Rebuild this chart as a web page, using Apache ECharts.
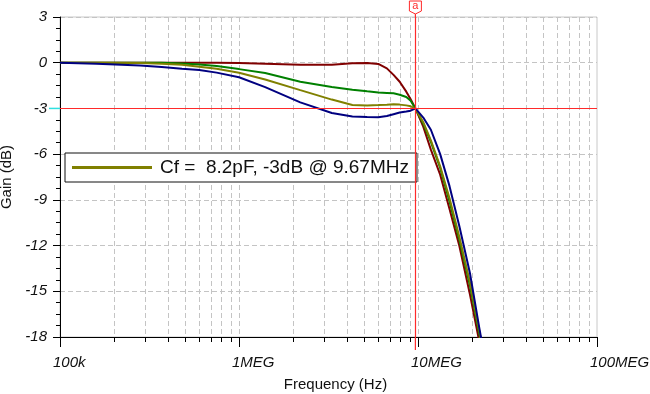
<!DOCTYPE html>
<html><head><meta charset="utf-8">
<script src="https://cdn.jsdelivr.net/npm/echarts@6/dist/echarts.min.js"></script>
<style>html,body{margin:0;padding:0;background:#fff}#c{width:650px;height:394px}</style>
</head><body><div id="c"></div>
<script>
// ---- data ----
const freqHz = [1e5, 1.6e5, 2.8e5, 3.7e5, 4.8e5, 6e5, 7.5e5, 1e6, 1.4e6, 2.2e6, 3.3e6, 4.3e6, 5.2e6, 6e6, 6.7e6, 7.3e6, 7.9e6, 8.6e6, 9.1e6, 9.67e6, 1.07e7, 1.18e7, 1.33e7, 1.5e7, 1.7e7, 1.95e7, 2.2e7, 2.5e7];
const gainMaroon = [0,0,0,0,0,0,0,-0.02,-0.06,-0.13,-0.13,-0.04,-0.02,-0.08,-0.37,-0.8,-1.25,-1.9,-2.4,-3.0,-4.2,-5.7,-7.35,-9.6,-12.0,-15.2,-18.3,-21.5];
const gainGreen  = [0,0,0,-0.01,-0.05,-0.11,-0.22,-0.42,-0.68,-1.25,-1.6,-1.78,-1.88,-1.95,-1.98,-2.01,-2.1,-2.25,-2.5,-3.0,-4.0,-5.2,-6.9,-9.1,-11.6,-14.6,-17.8,-21.2];
const gainOlive  = [0,0,-0.02,-0.06,-0.14,-0.26,-0.4,-0.66,-1.1,-1.8,-2.42,-2.78,-2.8,-2.78,-2.76,-2.72,-2.75,-2.8,-2.86,-3.0,-3.9,-5.1,-6.8,-8.9,-11.4,-14.4,-17.6,-21.0];
const gainNavy   = [0,-0.06,-0.18,-0.28,-0.4,-0.48,-0.65,-0.95,-1.6,-2.6,-3.3,-3.53,-3.57,-3.58,-3.5,-3.38,-3.27,-3.2,-3.15,-3.0,-3.6,-4.4,-6.0,-8.1,-10.7,-13.8,-17.4,-21.0];
const xDecades = [1e5, 1e6, 1e7, 1e8];
const xDecadeLabels = ['100k', '1MEG', '10MEG', '100MEG'];
const xMinorValues = [2e5,3e5,4e5,5e5,6e5,7e5,8e5,9e5,1e6,2e6,3e6,4e6,5e6,6e6,7e6,8e6,9e6,1e7,2e7,3e7,4e7,5e7,6e7,7e7,8e7,9e7];
const yMin = -18, yMax = 3, yStep = 3;
const cursorFreq = 9.67e6, cursorGain = -3;
const legendText = 'Cf =  8.2pF, -3dB @ 9.67MHz';
const xName = 'Frequency (Hz)', yName = 'Gain (dB)';

// ---- chart ----
const chart = echarts.init(document.getElementById('c'), null, {renderer:'canvas'});
const pair = g => freqHz.map((f,i)=>[f, g[i]]);
const gridDash = {color:'#c4c4c4', type:[5,3], width:1};
const FONT = 'Liberation Sans, Arial, sans-serif';
const labelFont = {fontFamily:FONT, fontStyle:'italic', fontSize:15, color:'#111'};
const CURSOR = '#ff2a2a';
const lineSeries = (name, color, g) => ({
  name, type:'line', data: pair(g), showSymbol:false, symbol:'none', smooth:false,
  lineStyle:{color, width:2}, itemStyle:{color}, animation:false, silent:true, z:3,
  emphasis:{disabled:true}
});

chart.setOption({
  animation:false,
  grid:{left:60, right:53, top:17, bottom:57, show:true, borderColor:'#c8c8c8', borderWidth:1,
        backgroundColor:'transparent', containLabel:false, outerBoundsMode:'none'},
  legend:{
    show:true, data:[legendText], left:65, top:153, orient:'horizontal',
    icon:'rect', itemWidth:80, itemHeight:3, padding:[5,8,5,7],
    backgroundColor:'#fff', borderColor:'#111', borderWidth:1,
    selectedMode:false,
    textStyle:{fontFamily:FONT, fontSize:19, color:'#111', padding:[0,0,0,3]}
  },
  xAxis:[{
    type:'log', logBase:10, min:1e5, max:1e8, position:'bottom',
    name:xName, nameLocation:'middle', nameGap:40,
    nameTextStyle:{fontFamily:FONT, fontSize:15, color:'#111', padding:[0,0,0,14]},
    axisLine:{show:true, onZero:false, lineStyle:{color:'#000', width:1}},
    axisTick:{show:true, inside:false, length:10, lineStyle:{color:'#000'}},
    axisLabel:{show:false},
    splitLine:{show:false},
    minorTick:{show:false}
  },{
    type:'log', logBase:10, min:1e5, max:1e8, position:'bottom',
    axisLine:{show:true, onZero:false, lineStyle:{color:'#000', width:1}},
    axisTick:{show:true, inside:false, length:5, customValues:xMinorValues, lineStyle:{color:'#000'}},
    axisLabel:{show:false},
    splitLine:{show:true, lineStyle:gridDash}
  }],
  yAxis:{
    type:'value', min:yMin, max:yMax, interval:yStep,
    name:yName, nameLocation:'middle', nameGap:38, nameRotate:90,
    nameTextStyle:{fontFamily:FONT, fontSize:15, color:'#111'},
    axisLine:{show:true, onZero:false, lineStyle:{color:'#000', width:1}},
    axisTick:{show:true, inside:false, length:7, lineStyle:{color:'#000'}},
    minorTick:{show:true, splitNumber:4, length:4, lineStyle:{color:'#000'}},
    axisLabel:Object.assign({margin:13}, labelFont),
    splitLine:{show:true, lineStyle:gridDash}
  },
  series:[
    lineSeries('maroon', '#800000', gainMaroon),
    lineSeries('green', '#008000', gainGreen),
    lineSeries(legendText, '#808000', gainOlive),
    lineSeries('navy', '#000080', gainNavy),
    {
      name:'cursor', type:'line', data:[[cursorFreq, cursorGain]], symbol:'none', showSymbol:false,
      lineStyle:{opacity:0}, silent:true, z:2, emphasis:{disabled:true},
      markLine:{
        silent:true, symbol:['none','none'], animation:false,
        label:{show:false}, emphasis:{disabled:true},
        itemStyle:{color:CURSOR},
        lineStyle:{color:CURSOR, type:'solid', width:1.2, opacity:1},
        data:[{xAxis:cursorFreq},{yAxis:cursorGain}]
      }
    }
  ]
});

// tick labels and cursor decorations, positioned from the axes
const px = chart.convertToPixel({xAxisIndex:0}, cursorFreq);
const pyTop = chart.convertToPixel({yAxisIndex:0}, yMax);
const pyBot = chart.convertToPixel({yAxisIndex:0}, yMin);
const pyCur = chart.convertToPixel({yAxisIndex:0}, cursorGain);
const pxLeft = chart.convertToPixel({xAxisIndex:0}, xDecades[0]);
const xLabelTexts = xDecades.map((d, i) => ({
  type:'text', x: chart.convertToPixel({xAxisIndex:0}, d) - 7, y: pyBot + 18,
  style:{text:xDecadeLabels[i], fill:'#111', font:'italic 15px ' + FONT, align:'left', verticalAlign:'top'}, z:5
}));
chart.setOption({graphic: xLabelTexts.concat([
  {type:'line', shape:{x1:px, y1:pyTop-4, x2:px, y2:pyTop}, style:{stroke:CURSOR, lineWidth:1.2}, z:10},
  {type:'line', shape:{x1:px, y1:pyBot, x2:px, y2:pyBot+13}, style:{stroke:CURSOR, lineWidth:1.2}, z:10},
  {type:'polygon', shape:{points:[[px-6,pyTop-16],[px+6,pyTop-16],[px+6,pyTop-6],[px,pyTop-3],[px-6,pyTop-6]]}, style:{fill:'#fff', stroke:CURSOR, lineWidth:1}, z:10},
  {type:'text', x:px, y:pyTop-11, style:{text:'a', fill:CURSOR, font:'11px ' + FONT, align:'center', verticalAlign:'middle'}, z:11},
  {type:'line', shape:{x1:pxLeft-11, y1:pyCur, x2:pxLeft, y2:pyCur}, style:{stroke:'#30e0e0', lineWidth:1.5}, z:10}
])});
</script></body></html>
